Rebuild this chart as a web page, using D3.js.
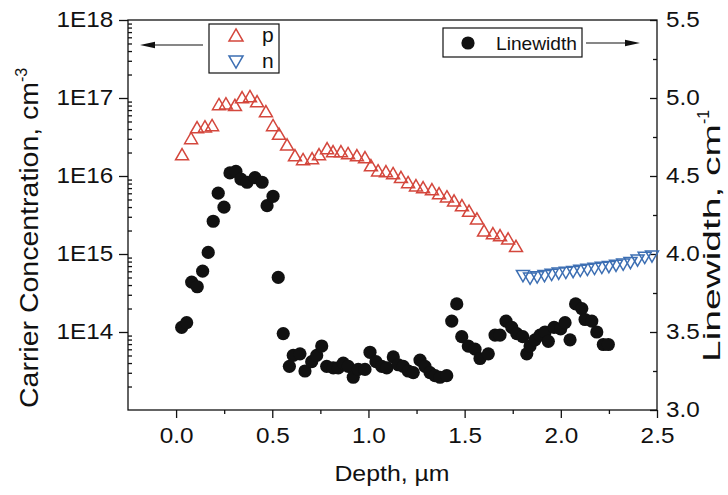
<!DOCTYPE html>
<html>
<head>
<meta charset="utf-8">
<script src="https://cdn.jsdelivr.net/npm/d3@7"></script>
<style>
html, body { margin: 0; padding: 0; background: #fff; }
svg { display: block; font-family: "Liberation Sans", Arial, sans-serif; }
</style>
</head>
<body>
<svg id="chart" width="728" height="495"></svg>
<script>
// Hole (p) concentration vs depth, cm^-3
const pDepth = [0.031,0.078,0.109,0.150,0.187,0.223,0.259,0.306,0.343,0.384,0.421,0.467,0.504,0.535,0.577,0.618,0.660,0.707,0.743,0.785,0.816,0.857,0.894,0.940,0.982,1.013,1.050,1.091,1.128,1.169,1.206,1.247,1.284,1.330,1.367,1.408,1.445,1.486,1.523,1.564,1.601,1.647,1.684,1.726,1.767];
const pConc = [1.8e16,2.9e16,4.0e16,4.1e16,4.25e16,7.9e16,8.1e16,7.7e16,9.7e16,1.0e17,8.6e16,6.4e16,4.25e16,3.3e16,2.4e16,1.75e16,1.56e16,1.6e16,1.8e16,2.15e16,1.97e16,1.97e16,1.86e16,1.75e16,1.65e16,1.3e16,1.12e16,1.09e16,1.03e16,9.2e15,7.9e15,7.2e15,6.8e15,6.4e15,5.7e15,5.2e15,4.6e15,4.0e15,3.4e15,2.7e15,1.9e15,1.75e15,1.65e15,1.5e15,1.2e15];

// Electron (n) concentration vs depth, cm^-3
const nDepth = [1.803,1.840,1.877,1.915,1.952,1.989,2.026,2.064,2.101,2.138,2.175,2.213,2.250,2.287,2.324,2.362,2.399,2.436,2.474];
const nConc = [5.5e14,5.1e14,5.3e14,5.5e14,5.7e14,5.9e14,6.05e14,6.2e14,6.4e14,6.6e14,6.8e14,7.0e14,7.2e14,7.45e14,7.7e14,8.1e14,8.7e14,9.4e14,9.8e14];

// Raman linewidth vs depth, cm^-1
const lwDepth = [0.029,0.055,0.081,0.110,0.138,0.167,0.193,0.219,0.249,0.280,0.311,0.337,0.369,0.410,0.447,0.473,0.504,0.531,0.557,0.589,0.609,0.644,0.670,0.705,0.731,0.757,0.783,0.817,0.843,0.869,0.895,0.921,0.947,0.982,1.008,1.039,1.069,1.095,1.129,1.155,1.181,1.207,1.233,1.268,1.294,1.320,1.346,1.372,1.407,1.433,1.459,1.485,1.519,1.554,1.580,1.623,1.658,1.684,1.715,1.745,1.771,1.802,1.823,1.840,1.866,1.892,1.918,1.935,1.965,1.999,2.022,2.048,2.077,2.109,2.126,2.161,2.187,2.221,2.247];
const lwValue = [3.53,3.56,3.82,3.79,3.89,4.01,4.21,4.39,4.30,4.52,4.53,4.48,4.46,4.49,4.46,4.31,4.37,3.85,3.49,3.28,3.35,3.36,3.25,3.31,3.35,3.41,3.28,3.27,3.27,3.30,3.28,3.21,3.26,3.26,3.37,3.31,3.28,3.27,3.34,3.29,3.28,3.25,3.24,3.32,3.28,3.24,3.22,3.21,3.22,3.57,3.68,3.47,3.41,3.39,3.33,3.36,3.48,3.48,3.57,3.53,3.49,3.47,3.36,3.41,3.45,3.48,3.50,3.44,3.53,3.52,3.56,3.45,3.68,3.65,3.58,3.57,3.50,3.42,3.42];

// Axis ticks
const xMajor = [0, 0.5, 1.0, 1.5, 2.0, 2.5];
const xMinor = [0.25, 0.75, 1.25, 1.75, 2.25];
const leftMajor = [1e14, 1e15, 1e16, 1e17, 1e18];
const leftLabels = ["1E14", "1E15", "1E16", "1E17", "1E18"];
const rightMajor = [3.0, 3.5, 4.0, 4.5, 5.0, 5.5];
const rightMinor = [3.25, 3.75, 4.25, 4.75, 5.25];

const RED = "#d4473d", BLUE = "#3d6fb3", INK = "#111";
const SX = 1.13; // glyph widening for the axis lettering

const svg = d3.select("#chart");
const L = 128, R = 657, T = 20, B = 410;

const x = d3.scaleLinear().domain([-0.25, 2.5]).range([L, R]);
const yL = d3.scaleLog().domain([1e13, 1e18]).range([B, T]);
const yR = d3.scaleLinear().domain([3.0, 5.5]).range([B, T]);

function styleAxis(g) {
  g.select(".domain").remove();
  g.selectAll("line").attr("stroke", INK).attr("stroke-width", 1.3);
  g.selectAll("text").attr("fill", INK).attr("font-size", 21.5)
    .attr("font-family", "Liberation Sans, Arial, sans-serif")
    .attr("transform", `scale(${SX},1)`);
}

// bottom axis
svg.append("g").attr("transform", `translate(0,${B})`)
  .call(d3.axisBottom(x).tickValues(xMajor).tickSize(8).tickPadding(10).tickFormat(d3.format(".1f")))
  .call(styleAxis);
svg.append("g").attr("transform", `translate(0,${B})`)
  .call(d3.axisBottom(x).tickValues(xMinor).tickSize(4).tickFormat(""))
  .call(styleAxis);

// left log axis: major outward, minor inward
svg.append("g").attr("transform", `translate(${L},0)`)
  .call(d3.axisLeft(yL).tickValues(leftMajor).tickSize(9).tickPadding(4)
    .tickFormat((d, i) => leftLabels[i]))
  .call(styleAxis);
const leftMinor = [];
for (let e = 13; e < 18; e++) for (let m = 2; m <= 9; m++) leftMinor.push(m * Math.pow(10, e));
svg.append("g").attr("transform", `translate(${L},0)`)
  .call(d3.axisRight(yL).tickValues(leftMinor).tickSize(4).tickFormat(""))
  .call(styleAxis);

// right linear axis: ticks inward
svg.append("g").attr("transform", `translate(${R},0)`)
  .call(d3.axisRight(yR).tickValues(rightMajor).tickSizeInner(-7).tickSizeOuter(0).tickPadding(8)
    .tickFormat(d3.format(".1f")))
  .call(styleAxis);
svg.append("g").attr("transform", `translate(${R},0)`)
  .call(d3.axisRight(yR).tickValues(rightMinor).tickSizeInner(-4).tickSizeOuter(0).tickFormat(""))
  .call(styleAxis);

// frame
svg.append("rect").attr("x", L).attr("y", T).attr("width", R - L).attr("height", B - T)
  .attr("fill", "none").attr("stroke", INK).attr("stroke-width", 1.3);

// open triangle marker path
function tri(up, s) {
  const h = s * Math.sqrt(3) / 2, k = up ? 1 : -1;
  return `M0,${-k * h * 2 / 3}L${s / 2},${k * h / 3}L${-s / 2},${k * h / 3}Z`;
}

const plot = svg.append("g");
plot.selectAll(".p").data(pDepth).join("path")
  .attr("transform", (d, i) => `translate(${x(d)},${yL(pConc[i])})`)
  .attr("d", tri(true, 13)).attr("fill", "none").attr("stroke", RED).attr("stroke-width", 1.5);
plot.selectAll(".n").data(nDepth).join("path")
  .attr("transform", (d, i) => `translate(${x(d)},${yL(nConc[i])})`)
  .attr("d", tri(false, 13)).attr("fill", "none").attr("stroke", BLUE).attr("stroke-width", 1.5);
plot.selectAll("circle").data(lwDepth).join("circle")
  .attr("cx", d => x(d)).attr("cy", (d, i) => yR(lwValue[i])).attr("r", 6.6).attr("fill", INK);

// legends
const leg = svg.append("g");
leg.append("rect").attr("x", 209).attr("y", 24).attr("width", 70).attr("height", 49)
  .attr("fill", "#fff").attr("stroke", INK).attr("stroke-width", 1.2);
leg.append("path").attr("transform", "translate(236,37)").attr("d", tri(true, 14))
  .attr("fill", "none").attr("stroke", RED).attr("stroke-width", 1.5);
leg.append("path").attr("transform", "translate(236,60)").attr("d", tri(false, 14))
  .attr("fill", "none").attr("stroke", BLUE).attr("stroke-width", 1.5);
leg.append("text").attr("x", 262).attr("y", 42).attr("font-size", 21).attr("fill", INK).text("p");
leg.append("text").attr("x", 262).attr("y", 68).attr("font-size", 21).attr("fill", INK).text("n");

leg.append("rect").attr("x", 443).attr("y", 28).attr("width", 139).attr("height", 29)
  .attr("fill", "#fff").attr("stroke", INK).attr("stroke-width", 1.2);
leg.append("circle").attr("cx", 468).attr("cy", 43).attr("r", 6.6).attr("fill", INK);
leg.append("text").attr("x", 496).attr("y", 49.5).attr("font-size", 19)
  .attr("textLength", 81).attr("lengthAdjust", "spacingAndGlyphs").attr("fill", INK).text("Linewidth");

// arrows pointing to each series' axis
leg.append("line").attr("x1", 203).attr("y1", 45).attr("x2", 150).attr("y2", 45)
  .attr("stroke", INK).attr("stroke-width", 1.2);
leg.append("path").attr("d", "M140,45L155,41.8L155,48.2Z").attr("fill", INK);
leg.append("line").attr("x1", 586).attr("y1", 43).attr("x2", 628).attr("y2", 43)
  .attr("stroke", INK).attr("stroke-width", 1.2);
leg.append("path").attr("d", "M640,43L625,39.8L625,46.2Z").attr("fill", INK);

// axis titles
svg.append("text").attr("transform", `translate(392,481) scale(${SX},1)`)
  .attr("text-anchor", "middle").attr("font-size", 22).attr("fill", INK).text("Depth, \u00b5m");

const lt = svg.append("text").attr("transform", "translate(38,408) rotate(-90)")
  .attr("font-size", 26).attr("fill", INK);
lt.append("tspan").attr("textLength", 326).attr("lengthAdjust", "spacingAndGlyphs")
  .text("Carrier Concentration, cm");
lt.append("tspan").attr("font-size", 16).attr("dy", -11).text("-3");

const rt = svg.append("text").attr("transform", "translate(720,362) rotate(-90)")
  .attr("font-size", 24).attr("fill", INK);
rt.append("tspan").attr("textLength", 238).attr("lengthAdjust", "spacingAndGlyphs")
  .text("Linewidth, cm");
rt.append("tspan").attr("font-size", 16).attr("dy", -11).text("-1");
</script>
</body>
</html>
